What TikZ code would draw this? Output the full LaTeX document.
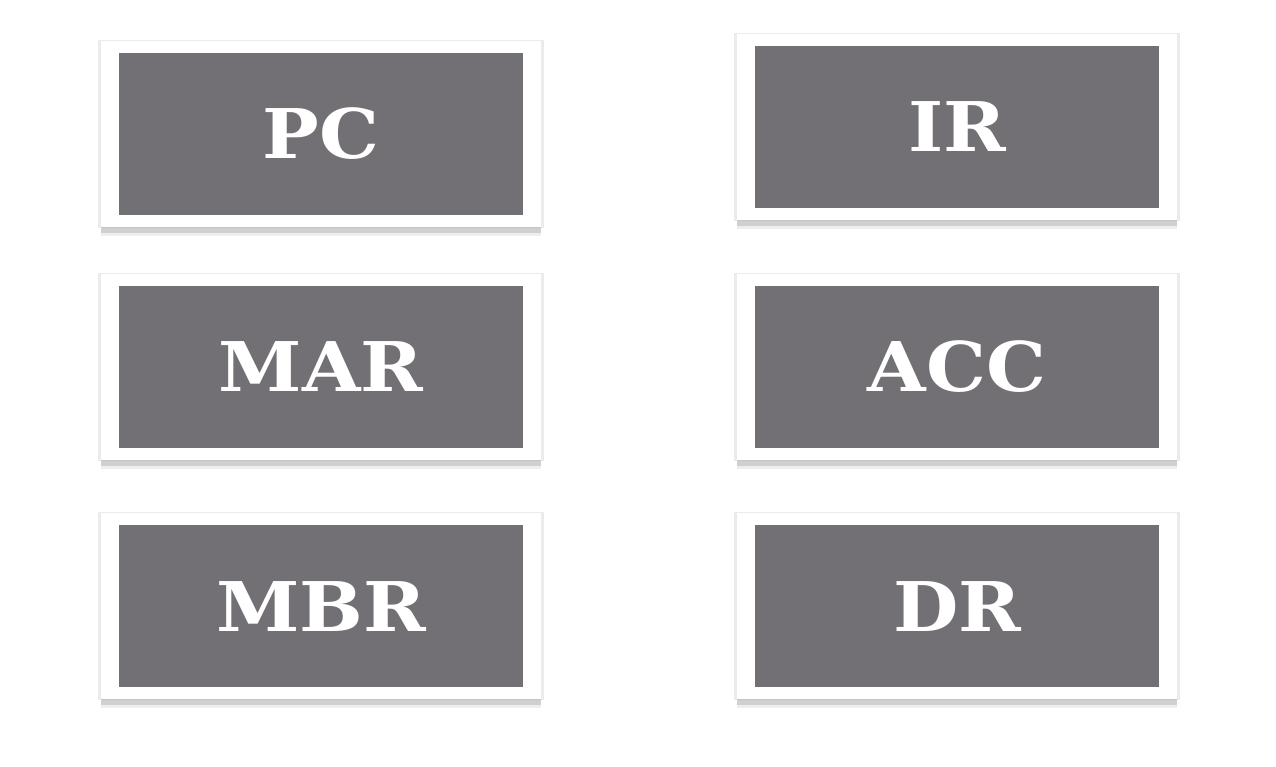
\documentclass[tikz,border=0pt]{standalone}
\usepackage{fontspec}
\setmainfont{DejaVu Serif}[FakeStretch=1.1]
\usetikzlibrary{shadows}
\definecolor{regfill}{HTML}{727075}
\begin{document}
\begin{tikzpicture}
  [x=0.1mm,y=0.1mm,
   reg/.style={rectangle,minimum width=44mm,minimum height=18.6mm,fill=white,
     general shadow={fill=black!40,shadow scale=1.012,opacity=.2},
     general shadow={fill=black!45,shadow yshift=-0.9mm,opacity=.15},
     general shadow={fill=black!45,shadow yshift=-0.6mm,opacity=.3},
     path picture={\fill[regfill]
       ([xshift=1.8mm,yshift=-1.2mm]path picture bounding box.north west) rectangle
       ([xshift=-1.8mm,yshift=1.2mm]path picture bounding box.south east);},
     text=white,font=\bfseries\fontsize{19.5}{24}\selectfont}]
  \useasboundingbox (0,0) rectangle (1276,766);
  \node[reg] (pc) at (321,632) {PC};
  \node[reg] (ir) at (957,639) {IR};
  \node[reg] (mar) at (321,399) {MAR};
  \node[reg] (acc) at (957,399) {ACC};
  \node[reg] (mbr) at (321,160) {MBR};
  \node[reg] (dr) at (957,160) {DR};
\end{tikzpicture}
\end{document}
